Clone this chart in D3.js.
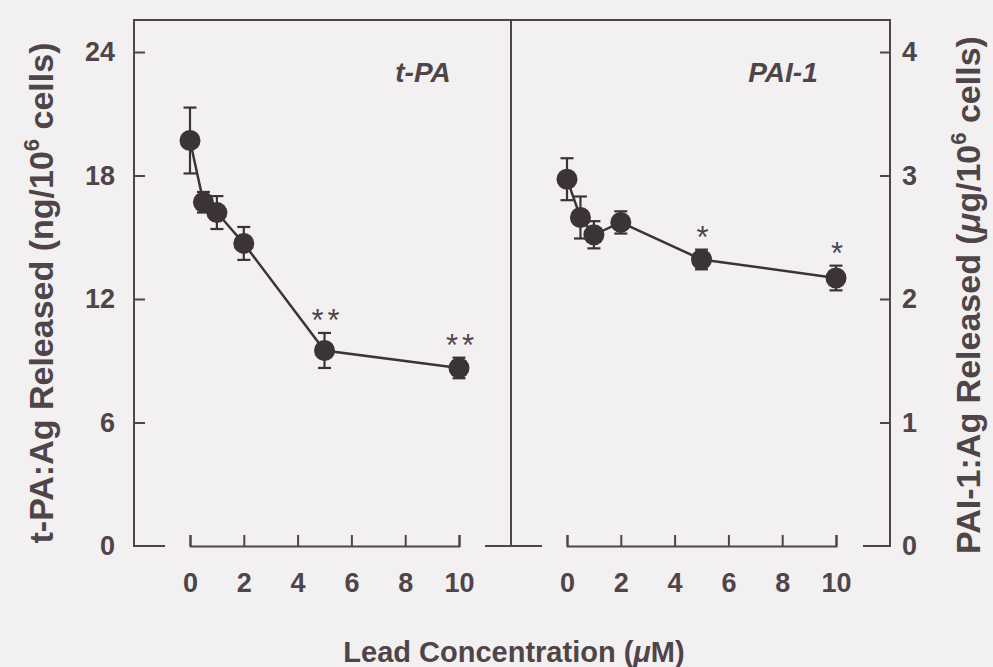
<!DOCTYPE html>
<html><head><meta charset="utf-8">
<script src="https://cdn.jsdelivr.net/npm/d3@7"></script>
<style>
html,body{margin:0;padding:0;background:#f2f0f1;}
svg{display:block;font-family:"Liberation Sans",Arial,sans-serif;}
</style></head>
<body><svg id="c" width="993" height="667"></svg>
<script>
// ---- data ----
const leadConc = [0, 0.5, 1, 2, 5, 10];
const tpaMean = [19.7, 16.7, 16.2, 14.7, 9.5, 8.65];
const tpaSE   = [1.6, 0.5, 0.8, 0.8, 0.85, 0.5];
const tpaSig  = ["", "", "", "", "**", "**"];
const paiMean = [2.97, 2.66, 2.52, 2.62, 2.32, 2.17];
const paiSE   = [0.17, 0.17, 0.11, 0.09, 0.08, 0.10];
const paiSig  = ["", "", "", "", "*", "*"];
const xTicks = [0, 2, 4, 6, 8, 10];
const tpaTicks = [0, 6, 12, 18, 24];
const paiTicks = [0, 1, 2, 3, 4];

const ink = "#4f4548", dot = "#3b3336";
const svg = d3.select("#c");
svg.append("rect").attr("width",993).attr("height",667).attr("fill","#f2f0f1");

const yL = d3.scaleLinear().domain([0,24]).range([546,52]);
const yR = d3.scaleLinear().domain([0,4]).range([546,52]);
const xL = d3.scaleLinear().domain([0,10]).range([190,459]);
const xR = d3.scaleLinear().domain([0,10]).range([567,836]);
const pLeft = 134, pMid = 511, pRight = 890, pTop = 20, pBottom = 546;

// frame
const frame = svg.append("g").attr("stroke",ink).attr("stroke-width",2).attr("fill","none");
frame.append("path").attr("d",`M${pLeft+31},${pBottom}H${pLeft}V${pTop}H${pRight}V${pBottom}H${pRight-27}`);
frame.append("path").attr("d",`M${pMid},${pTop}V${pBottom}`);
frame.append("path").attr("d",`M${xL(10)+26},${pBottom}H${pMid+31}`);

function styleAxis(g){
  g.select(".domain").attr("stroke",ink).attr("stroke-width",2);
  g.selectAll(".tick line").attr("stroke",ink).attr("stroke-width",2);
  g.selectAll(".tick text").attr("fill",ink).attr("font-size",27).attr("font-weight","bold");
}
const fmt = d3.format("d");
// y axes
svg.append("g").attr("transform",`translate(${pLeft},0)`)
  .call(d3.axisLeft(yL).tickValues(tpaTicks.filter(d=>d>0)).tickFormat(fmt).tickSizeInner(-11).tickSizeOuter(0).tickPadding(19))
  .call(g=>{styleAxis(g); g.select(".domain").remove();});
svg.append("g").attr("transform",`translate(${pRight},0)`)
  .call(d3.axisRight(yR).tickValues(paiTicks.filter(d=>d>0)).tickFormat(fmt).tickSizeInner(-10).tickSizeOuter(0).tickPadding(12))
  .call(g=>{styleAxis(g); g.select(".domain").remove();});
// zero labels
svg.append("text").attr("x",pLeft-19).attr("y",pBottom).attr("dy","0.35em").attr("text-anchor","end")
  .attr("fill",ink).attr("font-size",27).attr("font-weight","bold").text(tpaTicks[0]);
svg.append("text").attr("x",pRight+12).attr("y",pBottom).attr("dy","0.35em")
  .attr("fill",ink).attr("font-size",27).attr("font-weight","bold").text(paiTicks[0]);

// x axes
[xL,xR].forEach(x=>{
  svg.append("g").attr("transform",`translate(0,${pBottom})`)
    .call(d3.axisBottom(x).tickValues(xTicks).tickFormat(fmt).tickSizeInner(-11).tickSizeOuter(-11).tickPadding(27))
    .call(styleAxis);
});

// series
function series(x, y, mean, se, sig){
  const g = svg.append("g");
  g.append("path").datum(leadConc.map((c,i)=>[c,mean[i]]))
    .attr("d", d3.line().x(d=>x(d[0])).y(d=>y(d[1])))
    .attr("fill","none").attr("stroke",dot).attr("stroke-width",2.5);
  const e = g.selectAll(".err").data(leadConc).join("g").attr("stroke",dot).attr("stroke-width",2.2);
  e.append("line").attr("x1",d=>x(d)).attr("x2",d=>x(d))
    .attr("y1",(d,i)=>y(mean[i]+se[i])).attr("y2",(d,i)=>y(mean[i]-se[i]));
  e.append("line").attr("x1",d=>x(d)-6.5).attr("x2",d=>x(d)+6.5)
    .attr("y1",(d,i)=>y(mean[i]+se[i])).attr("y2",(d,i)=>y(mean[i]+se[i]));
  e.append("line").attr("x1",d=>x(d)-6.5).attr("x2",d=>x(d)+6.5)
    .attr("y1",(d,i)=>y(mean[i]-se[i])).attr("y2",(d,i)=>y(mean[i]-se[i]));
  g.selectAll("circle").data(leadConc).join("circle")
    .attr("cx",d=>x(d)).attr("cy",(d,i)=>y(mean[i])).attr("r",10.5).attr("fill",dot);
  g.selectAll(".sig").data(leadConc).join("text")
    .attr("x",d=>x(d)+3).attr("y",(d,i)=>y(mean[i]+se[i])-18+16)
    .attr("text-anchor","middle").attr("fill",ink).attr("font-size",31).attr("letter-spacing",4)
    .text((d,i)=>sig[i]);
}
series(xL, yL, tpaMean, tpaSE, tpaSig);
series(xR, yR, paiMean, paiSE, paiSig);

// panel labels
svg.append("text").attr("x",423).attr("y",82).attr("text-anchor","middle").attr("fill",ink)
  .attr("font-size",28).attr("font-weight","bold").attr("font-style","italic").text("t-PA");
svg.append("text").attr("x",783).attr("y",82).attr("text-anchor","middle").attr("fill",ink)
  .attr("font-size",28).attr("font-weight","bold").attr("font-style","italic").text("PAI-1");

// axis titles
const tl = svg.append("text").attr("transform","translate(53,293) rotate(-90)").attr("text-anchor","middle")
  .attr("fill",ink).attr("font-size",34).attr("font-weight","bold");
tl.append("tspan").text("t-PA:Ag Released (ng/10");
tl.append("tspan").attr("font-size",22).attr("dy",-14).text("6");
tl.append("tspan").attr("dy",14).text(" cells)");

const tr = svg.append("text").attr("transform","translate(980,295) rotate(-90)").attr("text-anchor","middle")
  .attr("fill",ink).attr("font-size",34).attr("font-weight","bold");
tr.append("tspan").text("PAI-1:Ag Released (");
tr.append("tspan").attr("font-style","italic").text("μ");
tr.append("tspan").text("g/10");
tr.append("tspan").attr("font-size",22).attr("dy",-14).text("6");
tr.append("tspan").attr("dy",14).text(" cells)");

const xt = svg.append("text").attr("x",514).attr("y",662).attr("text-anchor","middle")
  .attr("fill",ink).attr("font-size",29).attr("font-weight","bold");
xt.append("tspan").text("Lead Concentration (");
xt.append("tspan").attr("font-style","italic").text("μ");
xt.append("tspan").text("M)");
</script></body></html>
